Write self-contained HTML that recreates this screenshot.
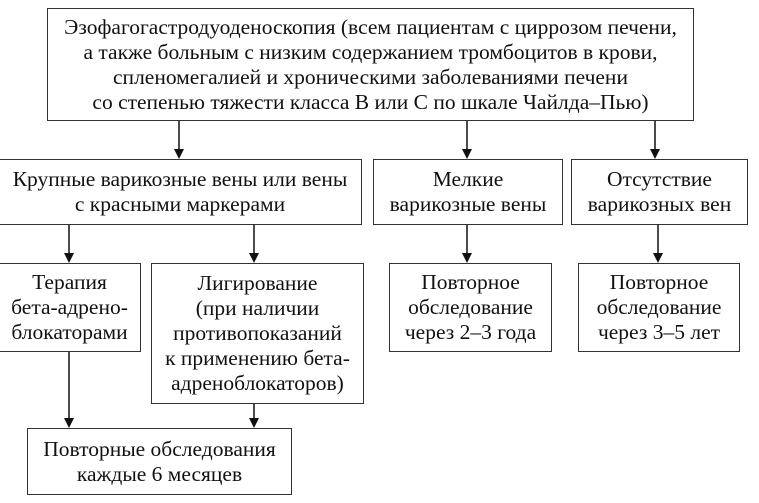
<!DOCTYPE html>
<html><head><meta charset="utf-8"><style>
body{margin:0;width:759px;height:503px;background:#fff;position:relative;overflow:hidden;font-family:"Liberation Serif","Noto Serif CJK SC",serif;font-size:21.5px;color:#111}
.b{position:absolute;border:1.5px solid #333;box-sizing:border-box;display:flex;align-items:center;justify-content:center;text-align:center;line-height:25px;white-space:nowrap}
svg{position:absolute;left:0;top:0}
</style></head><body>
<svg width="759" height="503">
<g stroke="#111" stroke-width="1.5">
<line x1="179" y1="121" x2="179" y2="150"/>
<line x1="467" y1="121" x2="467" y2="150"/>
<line x1="655" y1="121" x2="655" y2="150"/>
<line x1="69" y1="225" x2="69" y2="254"/>
<line x1="254" y1="225" x2="254" y2="254"/>
<line x1="467" y1="225" x2="467" y2="254"/>
<line x1="658" y1="225" x2="658" y2="254"/>
<line x1="69" y1="352" x2="69" y2="419"/>
<line x1="254" y1="404" x2="254" y2="419"/>
</g>
<g fill="#111">
<path d="M174,149 L184,149 L179,159 Z"/>
<path d="M462,149 L472,149 L467,159 Z"/>
<path d="M650,149 L660,149 L655,159 Z"/>
<path d="M64,253 L74,253 L69,263 Z"/>
<path d="M249,253 L259,253 L254,263 Z"/>
<path d="M462,253 L472,253 L467,263 Z"/>
<path d="M653,253 L663,253 L658,263 Z"/>
<path d="M64,418 L74,418 L69,428 Z"/>
<path d="M249,418 L259,418 L254,428 Z"/>
</g></svg>
<div class="b" style="left:47px;top:8px;width:647px;height:113px">Эзофагогастродуоденоскопия (всем пациентам с циррозом печени,<br>а также больным с низким содержанием тромбоцитов в крови,<br>спленомегалией и хроническими заболеваниями печени<br>со степенью тяжести класса В или С по шкале Чайлда–Пью)</div>
<div class="b" style="left:-2px;top:159px;width:364px;height:66px">Крупные варикозные вены или вены<br>с красными маркерами</div>
<div class="b" style="left:373px;top:159px;width:190px;height:66px">Мелкие<br>варикозные вены</div>
<div class="b" style="left:571px;top:159px;width:177px;height:66px">Отсутствие<br>варикозных вен</div>
<div class="b" style="left:-2px;top:263px;width:143px;height:89px">Терапия<br>бета-адрено-<br>блокаторами</div>
<div class="b" style="left:151px;top:263px;width:213px;height:141px">Лигирование<br>(при наличии<br>противопоказаний<br>к применению бета-<br>адреноблокаторов)</div>
<div class="b" style="left:389px;top:263px;width:163px;height:89px">Повторное<br>обследование<br>через 2–3 года</div>
<div class="b" style="left:578px;top:263px;width:162px;height:89px">Повторное<br>обследование<br>через 3–5 лет</div>
<div class="b" style="left:27px;top:428px;width:265px;height:67px">Повторные обследования<br>каждые 6 месяцев</div>
</body></html>
